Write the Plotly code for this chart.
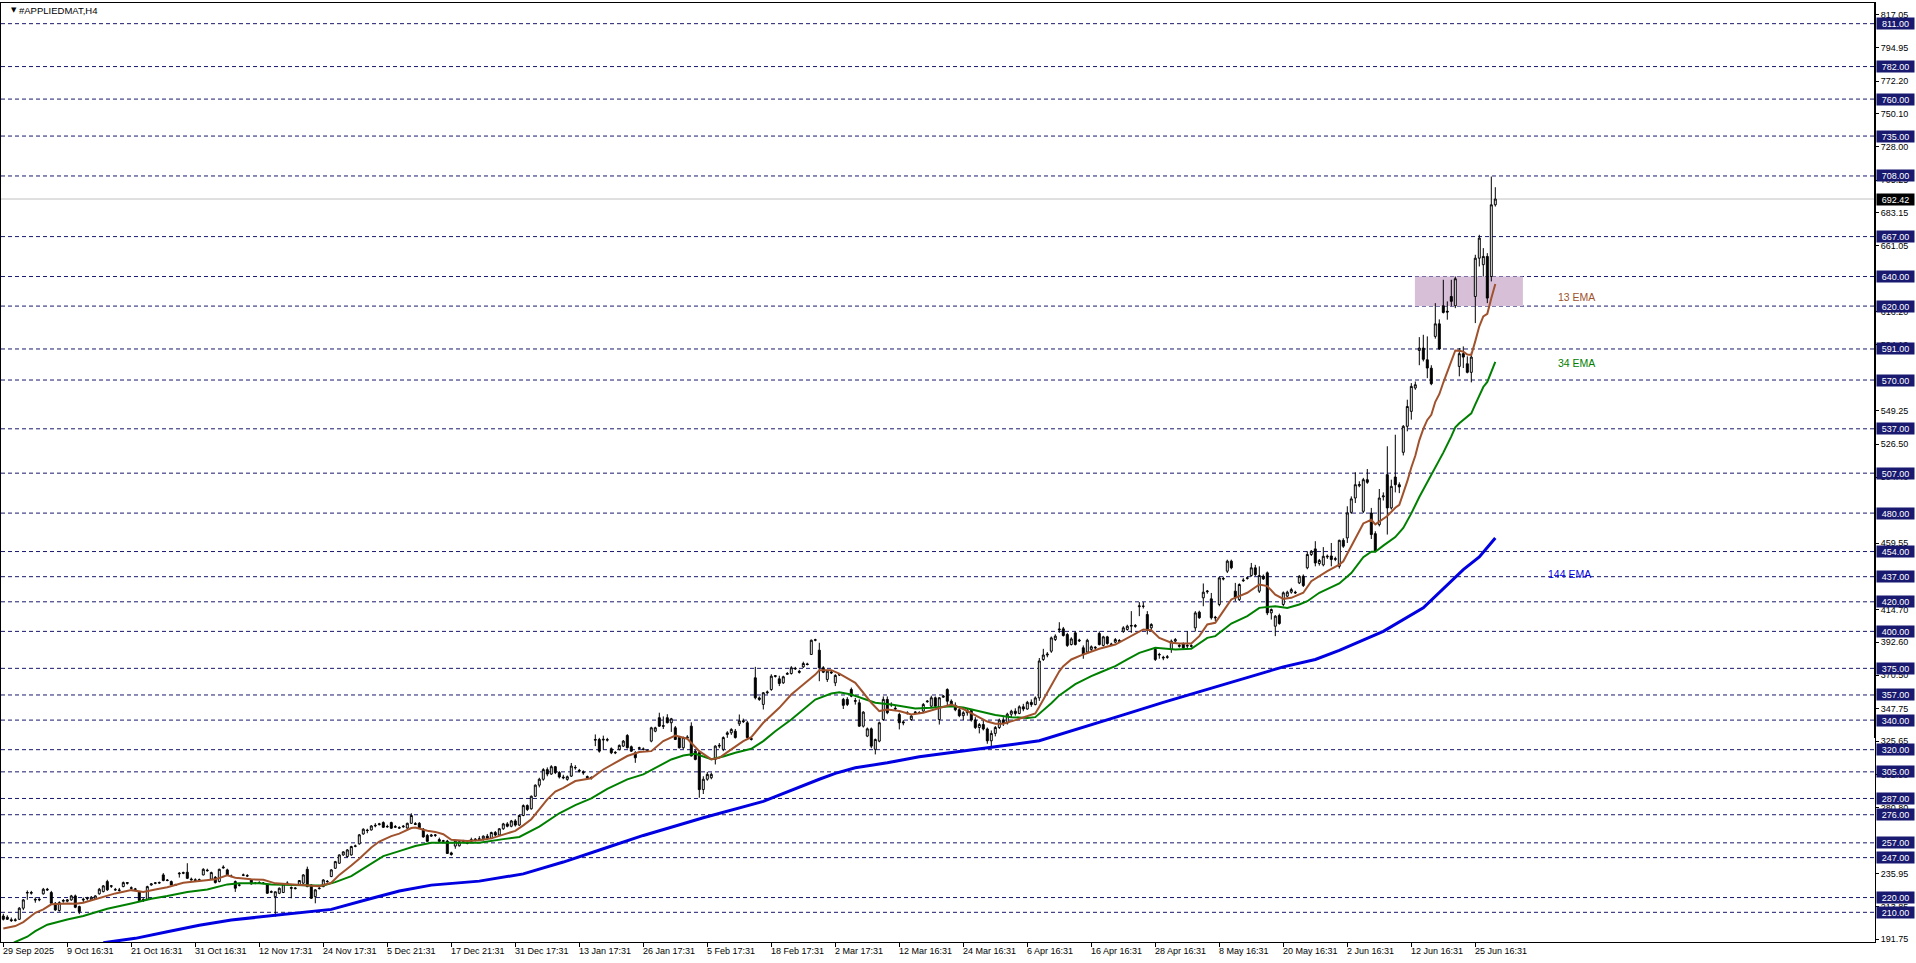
import plotly.graph_objects as go

# ---------------- data ----------------
opens = [
207.5, 206.7, 205.0, 204.4, 205.3, 212.8, 223.0, 223.4, 218.8, 218.4,
222.5, 225.6, 223.4, 216.1, 211.2, 217.5, 217.5, 218.4, 221.1, 213.9,
218.3, 219.2, 218.4, 219.0, 222.5, 224.0, 230.8, 227.6, 225.5, 224.8,
227.4, 230.1, 226.6, 225.8, 224.0, 218.0, 218.8, 228.5, 229.6, 229.8,
235.3, 231.8, 230.8, 228.5, 236.0, 236.4, 237.1, 232.5, 232.0, 231.6,
235.3, 238.5, 232.4, 233.7, 230.8, 240.0, 238.7, 234.6, 230.8, 228.3,
235.0, 234.8, 231.9, 229.5, 230.0, 229.6, 228.5, 223.5, 220.6, 222.9,
223.4, 229.4, 226.8, 226.0, 228.5, 229.7, 239.1, 228.5, 220.6, 226.0,
227.4, 231.0, 234.2, 239.8, 243.2, 248.8, 247.7, 248.8, 254.6, 256.3,
263.0, 265.6, 265.7, 268.4, 269.3, 270.7, 267.8, 270.7, 267.5, 267.3,
267.8, 267.0, 270.2, 270.0, 270.2, 266.2, 262.0, 261.5, 262.0, 259.2,
258.0, 258.2, 250.2, 254.8, 255.0, 258.0, 256.8, 258.0, 258.8, 259.3,
259.7, 261.5, 260.0, 264.0, 262.3, 266.5, 269.8, 268.2, 271.8, 269.0,
275.5, 282.2, 280.0, 288.5, 296.0, 300.0, 306.5, 303.5, 308.5, 304.5,
301.5, 299.9, 302.1, 308.0, 306.0, 305.0, 301.8, 300.8, 326.9, 326.9,
326.5, 326.8, 320.6, 318.2, 320.2, 322.4, 329.6, 322.0, 317.9, 320.8,
320.5, 319.3, 325.8, 332.5, 341.6, 336.2, 341.6, 338.2, 334.8, 328.2,
321.3, 328.6, 335.9, 319.0, 318.0, 293.0, 300.0, 301.0, 313.4, 322.4,
320.2, 330.3, 331.4, 332.5, 337.5, 339.5, 338.2, 327.5, 368.6, 355.0,
350.6, 358.5, 360.7, 369.5, 367.9, 365.2, 371.0, 371.5, 375.0, 373.0,
376.0, 378.0, 384.4, 394.0, 387.3, 375.4, 367.5, 372.5, 365.2, 370.5,
354.0, 354.0, 360.7, 353.2, 351.7, 335.9, 329.2, 334.1, 320.2, 325.8,
340.4, 354.0, 350.2, 348.0, 343.8, 338.8, 344.4, 340.4, 345.0, 345.0,
346.1, 352.4, 349.4, 355.1, 340.4, 355.5, 360.7, 352.8, 350.0, 347.0,
343.0, 345.0, 346.5, 340.0, 335.0, 337.0, 334.0, 326.0, 331.0, 335.0,
340.0, 338.0, 344.0, 346.0, 344.5, 349.0, 347.5, 352.0, 350.5, 355.0,
381.0, 384.0, 386.6, 394.5, 401.0, 401.7, 397.9, 391.1, 399.0, 393.5,
388.9, 386.0, 387.8, 389.3, 398.6, 390.5, 396.3, 391.5, 392.7, 393.8,
400.1, 401.3, 403.5, 404.0, 416.7, 417.0, 411.4, 402.4, 387.8, 384.0,
382.5, 382.4, 387.8, 393.4, 390.5, 391.8, 390.0, 390.3, 402.4, 413.0,
422.7, 426.8, 422.0, 409.6, 418.2, 435.8, 440.7, 447.5, 427.2, 421.5,
434.2, 435.8, 437.8, 443.0, 427.2, 437.3, 439.6, 412.5, 403.5, 410.7,
418.2, 423.8, 426.5, 426.5, 432.8, 437.3, 443.0, 452.0, 455.8, 445.9,
445.0, 450.3, 451.0, 448.6, 444.0, 461.6, 463.2, 480.5, 490.2, 498.5,
481.2, 502.6, 480.1, 466.1, 472.2, 491.0, 506.0, 483.5, 504.4, 499.2,
521.1, 538.7, 548.8, 564.6, 590.0, 591.6, 583.7, 578.0, 599.5, 608.0,
620.2, 616.5, 626.5, 620.2, 579.2, 587.8, 581.0, 575.2, 626.5, 652.4,
648.0, 653.6, 640.0, 688.5]

highs = [
209.0, 208.0, 206.5, 206.0, 213.5, 219.0, 224.8, 224.5, 220.2, 219.5,
226.5, 226.5, 224.5, 217.0, 217.5, 219.0, 219.0, 221.8, 222.0, 214.5,
220.0, 220.5, 221.0, 221.5, 226.5, 228.5, 232.0, 228.5, 226.5, 226.5,
230.8, 230.5, 227.5, 226.5, 224.5, 219.5, 228.0, 229.8, 230.5, 230.8,
236.5, 232.5, 231.5, 229.3, 237.2, 237.5, 243.2, 233.5, 233.0, 232.8,
239.8, 239.5, 237.5, 234.5, 239.5, 241.8, 239.5, 235.5, 231.5, 229.5,
236.2, 235.8, 232.5, 230.5, 231.0, 230.5, 229.5, 224.8, 224.0, 226.8,
229.6, 231.0, 227.5, 227.0, 231.8, 235.8, 240.9, 229.0, 225.6, 227.5,
232.4, 231.8, 239.2, 244.8, 249.2, 251.2, 252.8, 255.0, 255.8, 263.0,
266.8, 266.5, 269.0, 270.3, 270.5, 271.5, 269.2, 271.3, 269.0, 268.2,
269.0, 270.6, 277.0, 271.0, 271.0, 267.0, 263.0, 263.0, 263.0, 260.5,
259.0, 259.0, 251.0, 259.0, 258.5, 259.0, 258.0, 260.5, 260.2, 261.5,
262.0, 263.0, 264.5, 265.0, 267.0, 270.5, 271.0, 272.5, 273.0, 276.0,
283.0, 283.0, 289.0, 296.5, 301.0, 307.5, 308.0, 309.5, 309.0, 305.5,
303.0, 302.5, 311.0, 309.5, 307.0, 306.0, 302.5, 302.0, 330.3, 328.0,
329.5, 328.0, 321.5, 319.0, 323.5, 326.5, 330.5, 322.8, 319.0, 322.0,
321.5, 320.2, 335.5, 335.5, 345.0, 342.5, 344.0, 341.5, 336.0, 329.0,
328.8, 329.8, 338.5, 319.8, 319.0, 302.0, 305.0, 304.5, 323.0, 324.5,
329.0, 332.5, 334.5, 334.0, 343.8, 341.0, 339.5, 328.5, 376.0, 356.0,
359.0, 360.0, 371.0, 370.5, 370.0, 370.0, 372.5, 376.5, 376.0, 374.0,
379.5, 378.8, 394.5, 395.0, 392.3, 376.5, 374.0, 373.5, 371.0, 371.5,
355.0, 355.5, 362.0, 355.0, 354.0, 346.0, 335.0, 335.0, 327.5, 339.0,
356.0, 356.0, 352.0, 349.5, 345.0, 340.0, 346.0, 343.5, 346.0, 346.0,
351.5, 353.5, 356.5, 356.0, 355.5, 357.0, 361.5, 354.0, 352.0, 349.0,
346.0, 348.0, 347.5, 342.0, 338.0, 340.0, 335.0, 333.0, 336.0, 341.0,
342.0, 345.0, 347.0, 348.0, 350.0, 351.0, 353.0, 354.0, 356.0, 382.0,
388.2, 386.0, 396.5, 398.0, 406.2, 403.0, 399.0, 396.0, 400.0, 395.0,
390.5, 395.0, 390.5, 390.0, 400.0, 397.0, 397.0, 392.3, 395.5, 394.8,
403.5, 404.5, 413.7, 405.0, 419.8, 419.8, 413.7, 405.5, 389.0, 385.5,
383.5, 384.0, 394.5, 395.5, 391.5, 392.5, 400.1, 391.3, 413.7, 414.0,
432.4, 428.0, 426.0, 410.5, 437.0, 437.0, 448.5, 448.5, 432.8, 432.5,
436.0, 437.0, 446.3, 445.0, 444.0, 438.5, 440.5, 415.5, 411.0, 412.0,
427.0, 427.5, 429.5, 427.5, 438.0, 438.5, 454.2, 455.0, 461.0, 449.0,
457.0, 452.0, 459.8, 450.5, 462.0, 463.0, 484.6, 491.3, 507.6, 501.5,
503.8, 509.8, 483.5, 467.7, 496.3, 494.0, 525.2, 502.6, 533.0, 500.8,
539.5, 556.7, 567.9, 569.0, 599.0, 600.6, 599.5, 580.0, 622.0, 611.0,
637.8, 623.2, 637.8, 640.0, 591.6, 592.7, 586.0, 588.7, 654.7, 668.2,
659.2, 655.8, 707.6, 700.4]

lows = [
204.5, 204.8, 203.5, 203.8, 204.8, 211.5, 218.5, 222.0, 216.5, 217.5,
222.0, 224.5, 215.5, 211.0, 210.5, 216.5, 216.8, 217.8, 212.8, 208.8,
217.0, 218.0, 218.0, 218.5, 222.0, 223.5, 224.5, 226.5, 224.5, 224.0,
227.0, 228.8, 225.8, 225.0, 217.5, 217.0, 218.3, 228.0, 229.0, 229.3,
231.0, 231.0, 228.0, 227.8, 233.5, 235.8, 232.5, 231.5, 231.0, 231.2,
235.0, 237.5, 232.0, 229.5, 230.3, 239.6, 235.0, 233.8, 223.8, 227.5,
234.5, 234.0, 228.8, 229.0, 229.5, 229.0, 222.5, 223.0, 207.1, 222.3,
223.0, 229.0, 219.5, 225.5, 228.0, 229.3, 227.0, 219.0, 216.1, 225.5,
227.0, 230.0, 233.8, 239.3, 242.8, 248.2, 247.2, 248.3, 254.0, 255.8,
262.5, 263.5, 265.3, 267.5, 268.8, 267.0, 267.2, 266.4, 267.0, 266.5,
267.2, 266.5, 269.8, 269.0, 266.5, 260.5, 257.5, 261.0, 261.0, 257.5,
257.2, 249.5, 248.3, 253.0, 254.5, 257.4, 256.0, 257.5, 258.0, 258.8,
258.5, 259.0, 259.5, 261.5, 262.0, 265.8, 267.5, 267.5, 268.0, 268.5,
275.0, 278.5, 279.5, 288.0, 294.5, 299.0, 302.0, 303.0, 303.5, 300.5,
300.0, 299.0, 301.5, 306.5, 304.5, 303.0, 300.0, 299.8, 322.4, 318.0,
320.0, 325.5, 317.0, 317.0, 319.5, 321.8, 320.8, 318.5, 311.1, 320.0,
319.5, 318.4, 325.0, 331.8, 335.5, 334.0, 337.8, 332.0, 326.5, 320.8,
320.5, 327.0, 315.5, 312.8, 287.5, 290.0, 299.0, 300.0, 310.0, 321.0,
319.0, 328.0, 330.0, 327.5, 336.0, 338.0, 327.5, 326.2, 354.0, 353.0,
347.2, 357.5, 359.8, 368.8, 363.0, 364.5, 370.5, 370.8, 374.0, 371.5,
375.2, 377.0, 384.0, 393.3, 366.3, 371.8, 365.8, 371.2, 363.0, 369.8,
347.5, 349.5, 355.5, 350.5, 335.5, 335.0, 328.5, 321.0, 316.8, 325.0,
339.5, 344.0, 349.0, 346.8, 333.7, 336.5, 343.8, 339.5, 344.0, 344.2,
345.5, 351.8, 348.5, 348.5, 337.0, 355.0, 350.0, 349.0, 346.0, 342.0,
340.0, 343.0, 339.0, 334.0, 331.0, 333.0, 324.0, 321.0, 329.0, 334.0,
336.0, 337.0, 342.0, 343.0, 344.0, 346.0, 347.0, 349.0, 350.0, 353.0,
380.0, 382.5, 385.5, 393.5, 399.0, 396.5, 389.5, 390.5, 390.5, 392.8,
381.5, 385.0, 386.5, 388.0, 390.5, 389.8, 391.0, 390.5, 392.0, 392.8,
399.0, 400.5, 399.0, 402.5, 410.3, 415.5, 397.9, 401.0, 380.0, 381.5,
380.5, 381.5, 385.5, 392.5, 389.0, 388.0, 387.8, 389.0, 400.0, 408.5,
417.0, 425.5, 408.0, 406.9, 417.0, 434.5, 439.5, 442.0, 420.4, 420.5,
433.5, 435.0, 437.0, 437.5, 426.0, 434.8, 411.0, 408.0, 396.8, 404.5,
417.0, 423.0, 425.5, 425.3, 432.0, 430.0, 442.0, 451.0, 444.0, 444.5,
444.0, 449.0, 444.0, 447.5, 442.5, 456.5, 459.8, 479.5, 486.8, 497.5,
480.0, 499.8, 462.5, 453.5, 471.0, 488.5, 465.5, 482.4, 494.0, 493.5,
519.0, 535.3, 543.2, 563.4, 580.0, 582.6, 571.3, 566.5, 598.0, 590.5,
615.0, 610.8, 619.8, 618.6, 572.5, 578.1, 574.5, 568.4, 608.5, 646.8,
640.0, 622.0, 636.7, 687.3]

closes = [
205.3, 205.3, 204.4, 204.9, 212.8, 218.4, 223.4, 223.0, 218.4, 218.8,
225.6, 225.2, 216.1, 211.6, 216.6, 218.0, 218.4, 221.1, 213.4, 210.5,
218.8, 219.5, 220.2, 221.1, 225.6, 227.9, 225.2, 227.9, 225.2, 225.0,
230.1, 229.7, 226.3, 225.6, 218.0, 218.8, 227.4, 229.2, 229.9, 230.1,
231.5, 231.6, 228.5, 228.3, 236.4, 236.8, 233.0, 232.0, 231.6, 232.0,
239.1, 238.2, 236.9, 230.1, 239.1, 240.5, 235.3, 234.2, 226.3, 228.5,
235.3, 234.6, 229.2, 229.7, 230.1, 229.7, 222.9, 224.0, 223.9, 226.3,
229.2, 229.7, 226.3, 226.4, 231.5, 235.3, 227.4, 219.5, 225.2, 226.3,
231.9, 230.8, 238.7, 244.3, 248.8, 250.9, 252.2, 254.5, 254.9, 262.4,
266.2, 265.3, 268.4, 268.8, 269.8, 267.5, 268.0, 266.9, 268.0, 267.0,
268.2, 270.2, 275.5, 269.5, 267.2, 261.0, 258.0, 262.2, 262.3, 258.0,
258.4, 249.8, 249.1, 258.2, 257.8, 258.2, 256.7, 259.2, 259.4, 259.7,
261.5, 260.0, 264.0, 262.3, 266.5, 269.8, 268.2, 271.8, 269.0, 275.5,
282.2, 279.5, 288.5, 296.0, 300.0, 306.5, 303.5, 308.5, 304.5, 301.5,
301.0, 301.7, 308.9, 307.8, 305.5, 304.4, 301.0, 301.2, 326.5, 319.0,
327.0, 326.5, 317.9, 317.9, 322.9, 325.8, 321.3, 319.0, 314.5, 321.3,
320.2, 319.0, 334.8, 334.8, 335.9, 335.9, 338.2, 340.9, 326.9, 321.3,
328.2, 328.0, 315.7, 313.4, 293.0, 300.0, 303.3, 303.3, 322.4, 322.9,
328.2, 331.4, 333.7, 328.2, 339.5, 339.0, 328.2, 327.0, 355.1, 354.0,
358.5, 359.0, 369.7, 370.0, 364.8, 369.3, 371.5, 375.4, 374.7, 372.4,
378.3, 377.6, 394.0, 394.3, 375.4, 372.4, 373.1, 372.0, 370.2, 370.8,
350.0, 350.6, 356.2, 352.8, 335.9, 345.4, 334.1, 322.4, 326.9, 338.2,
354.0, 345.0, 350.6, 347.6, 338.2, 338.2, 344.9, 342.7, 345.4, 345.0,
350.6, 352.8, 355.1, 349.4, 355.1, 356.2, 352.8, 350.0, 347.0, 343.0,
345.0, 346.5, 340.0, 335.0, 337.0, 334.0, 326.0, 331.0, 335.0, 340.0,
338.0, 344.0, 346.0, 344.5, 349.0, 347.5, 352.0, 350.5, 355.0, 380.0,
384.0, 384.6, 395.6, 396.8, 401.5, 397.2, 390.5, 394.9, 391.1, 394.0,
384.4, 394.0, 389.6, 388.9, 391.1, 396.3, 391.8, 391.1, 394.5, 393.4,
402.4, 403.5, 404.0, 403.5, 417.2, 417.0, 400.8, 404.7, 381.0, 384.4,
382.1, 382.8, 393.4, 394.5, 390.0, 388.9, 390.5, 390.0, 412.5, 409.2,
426.5, 427.2, 409.2, 409.2, 436.2, 435.5, 447.5, 443.0, 422.7, 431.7,
434.6, 436.2, 443.0, 438.4, 437.8, 435.5, 412.5, 414.8, 410.3, 405.3,
426.1, 426.5, 428.3, 426.1, 437.3, 431.0, 452.0, 454.2, 446.3, 448.0,
450.8, 450.8, 448.6, 449.2, 461.6, 457.6, 480.1, 489.6, 499.2, 499.3,
502.6, 500.8, 465.5, 454.2, 490.2, 491.6, 483.5, 498.1, 499.2, 497.7,
538.7, 552.1, 565.7, 566.8, 591.6, 584.0, 578.1, 567.5, 608.0, 591.0,
615.7, 616.0, 623.2, 638.5, 587.8, 585.5, 575.2, 585.5, 652.4, 666.0,
653.6, 625.4, 688.5, 692.42]

ema13_bar = [0, 3, 5, 8, 10, 12, 16, 18, 20, 24, 28, 32, 35, 38, 41, 45, 49, 53, 56, 58,
             62, 65, 68, 72, 76, 79, 82, 84, 87, 89, 92, 94, 97, 99, 102, 103, 106, 108, 110, 112,
             116, 119, 122, 125, 128, 130, 132, 134, 136, 138, 140, 143, 147, 150, 153, 156, 159, 162, 165, 168,
             171, 174, 177, 179, 182, 185, 187, 188, 190, 194, 197, 200, 203, 204, 207, 209, 213, 215, 217, 219,
             221, 224, 227, 230, 234, 237, 240, 243, 246, 248, 250, 253, 256, 258, 259, 260, 261, 262, 263, 264,
             265, 266, 267, 270, 274, 278, 282, 285, 287, 289, 292, 294, 297, 299, 301, 303, 305, 307, 311, 314,
             316, 318, 320, 322, 325, 327, 331, 334, 335, 338, 340, 342, 343, 346, 348, 349, 350, 351, 352, 353,
             354, 355, 356, 357, 358, 359, 360, 361, 362, 363, 364, 365, 366, 367, 368, 369, 370, 371, 372, 373]
ema13_val = [199.1, 200.7, 203.4, 209.7, 212.0, 215.4, 216.0, 215.8, 216.5, 219.9, 222.8, 225.0, 223.7, 225.5, 227.0, 230.0, 231.1, 232.3, 235.0, 233.4,
             232.3, 232.0, 229.6, 228.9, 228.4, 227.7, 230.0, 235.3, 241.7, 246.3, 253.9, 257.9, 261.5, 263.2, 267.0, 267.3, 265.2, 264.4, 262.8, 259.0,
             258.3, 258.8, 260.0, 262.4, 265.1, 268.8, 273.0, 279.7, 286.4, 291.7, 294.2, 298.8, 300.6, 306.6, 311.1, 315.7, 318.4, 319.0, 325.8, 329.6,
             327.4, 319.0, 313.4, 314.5, 320.2, 325.8, 328.5, 331.9, 338.2, 348.3, 357.3, 364.1, 370.8, 373.8, 373.8, 371.5, 365.2, 358.5, 351.7, 346.1,
             347.2, 346.1, 343.8, 345.0, 348.3, 350.6, 347.5, 343.0, 339.0, 337.5, 337.5, 340.0, 343.0, 344.5, 349.0, 354.0, 358.0, 363.5, 368.0, 373.0,
             376.5, 378.5, 381.0, 384.4, 388.2, 391.1, 396.8, 401.3, 400.8, 395.6, 392.3, 391.8, 391.8, 396.8, 404.7, 405.8, 413.7, 421.6, 426.1, 431.7,
             430.6, 424.9, 422.0, 422.7, 426.1, 433.9, 440.7, 445.2, 447.4, 463.0, 473.0, 475.5, 472.4, 478.0, 483.6, 485.6, 493.2, 501.6, 510.8, 518.8,
             529.2, 537.0, 543.0, 546.5, 555.3, 560.4, 568.3, 575.1, 582.0, 590.0, 589.8, 589.2, 587.2, 587.0, 596.3, 606.3, 613.0, 614.8, 625.3, 634.9]

ema34_bar = [2, 3, 6, 8, 11, 16, 20, 26, 32, 37, 41, 46, 51, 56, 59, 64, 67, 72, 78, 80,
             83, 87, 91, 95, 99, 103, 107, 112, 119, 125, 129, 134, 139, 143, 147, 151, 156, 160, 163, 167,
             170, 173, 177, 180, 183, 187, 190, 193, 197, 200, 203, 207, 209, 212, 216, 218, 222, 225, 228, 232,
             237, 240, 244, 248, 252, 256, 258, 259, 260, 262, 264, 266, 268, 270, 272, 274, 276, 278, 281, 284,
             288, 293, 297, 301, 303, 307, 311, 314, 318, 321, 324, 326, 329, 334, 337, 340, 342, 343, 345, 348,
             350, 352, 354, 356, 358, 360, 362, 363, 364, 367, 368, 369, 370, 371, 372, 373]
ema34_val = [188.5, 190.0, 193.5, 197.3, 201.6, 205.2, 207.5, 212.4, 216.0, 219.2, 221.0, 223.7, 225.5, 228.9, 229.6, 229.6, 228.9, 228.4, 228.2, 228.2,
             230.4, 234.5, 241.3, 248.0, 251.4, 254.8, 257.0, 257.0, 257.0, 259.5, 261.0, 268.0, 277.0, 282.5, 287.0, 293.5, 299.9, 303.3, 307.8, 313.4,
             316.1, 317.2, 313.6, 315.4, 317.9, 320.6, 325.8, 332.5, 340.4, 347.2, 353.9, 358.0, 358.9, 357.3, 353.9, 351.7, 350.6, 349.0, 347.9, 348.3,
             349.4, 348.5, 346.0, 343.5, 342.0, 341.5, 342.0, 344.2, 346.5, 351.4, 356.7, 360.8, 364.3, 367.0, 369.8, 372.0, 374.5, 376.5, 381.0, 385.5,
             388.9, 387.8, 388.2, 395.6, 396.8, 405.3, 410.3, 415.9, 417.0, 415.9, 418.2, 420.4, 426.1, 432.4, 439.5, 450.2, 453.9, 453.9, 458.0, 463.8,
             470.0, 479.8, 490.9, 500.9, 510.6, 520.9, 531.9, 538.0, 540.8, 547.5, 553.5, 559.9, 565.3, 568.7, 575.5, 582.2]

ema144_bar = [25, 33, 41, 49, 57, 66, 74, 82, 91, 99, 107, 119, 130, 140, 150, 160, 175, 190, 204, 208,
              213, 221, 229, 237, 248, 259, 270, 280, 290, 300, 310, 320, 328, 334, 345, 355, 365, 369, 373]
ema144_val = [189.5, 192.4, 196.9, 201.2, 204.8, 207.5, 209.7, 212.0, 218.7, 224.4, 228.4, 231.1, 236.0, 244.0, 253.0, 262.0, 274.0, 285.0, 300.0, 304.0,
              307.8, 311.1, 315.2, 317.9, 322.0, 326.0, 335.0, 343.5, 352.0, 360.0, 368.5, 376.0, 381.0, 387.1, 400.0, 416.0, 441.8, 450.3, 463.2]

level_prices = [811, 782, 760, 735, 708, 667, 640, 620, 591, 570, 537, 507, 480, 454,
                437, 420, 400, 375, 357, 340, 320, 305, 287, 276, 257, 247, 220, 210]
last_price = 692.42
zone_low, zone_high = 620, 640
zone_first_bar, zone_last_bar = 352.9, 379.9

# scale labels that stay (at least partly) visible beside the level boxes
ytick_vals = [817.05, 794.95, 772.20, 750.10, 728.00, 705.25, 683.15, 661.05, 616.20,
              594.10, 549.25, 526.50, 504.40, 459.55, 414.70, 392.60,
              370.50, 347.75, 325.65, 302.90, 280.80, 235.95, 213.85, 191.75]

xtick_bars = [0, 16, 32, 48, 64, 80, 96, 112, 128, 144, 160, 176, 192, 208, 224, 240,
              256, 272, 288, 304, 320, 336, 352, 368]
xtick_text = ["29 Sep 2025", "9 Oct 16:31", "21 Oct 16:31", "31 Oct 16:31", "12 Nov 17:31",
              "24 Nov 17:31", "5 Dec 21:31", "17 Dec 21:31", "31 Dec 17:31", "13 Jan 17:31",
              "26 Jan 17:31", "5 Feb 17:31", "18 Feb 17:31", "2 Mar 17:31", "12 Mar 16:31",
              "24 Mar 16:31", "6 Apr 16:31", "16 Apr 16:31", "28 Apr 16:31", "8 May 16:31",
              "20 May 16:31", "2 Jun 16:31", "12 Jun 16:31", "25 Jun 16:31"]

ema_labels = [("13 EMA", 388.2, 626.2, "#A0522D"),
              ("34 EMA", 388.2, 581.5, "#008000"),
              ("144 EMA", 385.7, 438.8, "#0000E0")]

symbol_title = "#APPLIEDMAT,H4"

n = len(closes)
assert len(opens) == n and len(highs) == n and len(lows) == n, (len(opens), len(highs), len(lows), n)
bars = list(range(n))

# ---------------- figure ----------------
W, H = 1916, 963
ML, MR, MT, MB = 1, 41, 3, 21
FONT = "Liberation Sans, Arial, sans-serif"
NAVY = "#191970"

fig = go.Figure()
fig.add_trace(go.Candlestick(
    x=bars, open=opens, high=highs, low=lows, close=closes,
    increasing=dict(line=dict(color="black", width=1), fillcolor="white"),
    decreasing=dict(line=dict(color="black", width=1), fillcolor="black"),
    whiskerwidth=0, hoverinfo="skip", showlegend=False))

fig.add_trace(go.Scatter(x=ema144_bar, y=ema144_val, mode="lines",
                         line=dict(color="#0000E0", width=3), hoverinfo="skip", showlegend=False))
fig.add_trace(go.Scatter(x=ema34_bar, y=ema34_val, mode="lines",
                         line=dict(color="#008000", width=2), hoverinfo="skip", showlegend=False))
fig.add_trace(go.Scatter(x=ema13_bar, y=ema13_val, mode="lines",
                         line=dict(color="#A0522D", width=2), hoverinfo="skip", showlegend=False))

shapes = []
shapes.append(dict(type="rect", xref="x", yref="y", x0=zone_first_bar, x1=zone_last_bar,
                   y0=zone_low, y1=zone_high, fillcolor="#D8BFD8", line=dict(width=0), layer="below"))
shapes.append(dict(type="line", xref="paper", yref="y", x0=0, x1=1, y0=last_price, y1=last_price,
                   line=dict(color="#C0C0C0", width=1), layer="below"))
for lv in level_prices:
    shapes.append(dict(type="line", xref="paper", yref="y", x0=0, x1=1, y0=lv, y1=lv,
                       line=dict(color=NAVY, width=1, dash="4px,3px"), layer="below"))
# thicker part of the right border
shapes.append(dict(type="line", xref="paper", yref="paper", x0=1, x1=1,
                   y0=(942 - 738) / (H - MT - MB), y1=1, line=dict(color="black", width=2)))

annotations = []
for lv in level_prices:
    annotations.append(dict(xref="paper", x=1, xanchor="left", xshift=1, yref="y", y=lv,
                            yanchor="middle", text=f"{lv:.2f}", showarrow=False,
                            bgcolor=NAVY, font=dict(color="white", size=9, family=FONT),
                            width=37, height=11, borderpad=0))
annotations.append(dict(xref="paper", x=1, xanchor="left", xshift=1, yref="y", y=last_price,
                        yanchor="middle", text=f"{last_price:.2f}", showarrow=False,
                        bgcolor="black", font=dict(color="white", size=9, family=FONT),
                        width=37, height=11, borderpad=0))
for b, t in zip(xtick_bars, xtick_text):
    annotations.append(dict(xref="x", x=b, xanchor="left", xshift=-2, yref="paper", y=0,
                            yanchor="top", yshift=-2, text=t, showarrow=False,
                            font=dict(color="black", size=9, family=FONT)))
for t, bx, py, col in ema_labels:
    annotations.append(dict(xref="x", x=bx, xanchor="left", yref="y", y=py, yanchor="middle",
                            text=t, showarrow=False, font=dict(color=col, size=10.5, family=FONT)))
annotations.append(dict(xref="paper", x=0, xanchor="left", xshift=8, yref="paper", y=1,
                        yanchor="top", yshift=-1, text="▼", showarrow=False,
                        font=dict(color="black", size=7, family="DejaVu Sans")))
annotations.append(dict(xref="paper", x=0, xanchor="left", xshift=16, yref="paper", y=1,
                        yanchor="top", yshift=0, text=symbol_title, showarrow=False,
                        font=dict(color="black", size=9.5, family=FONT)))

fig.update_layout(
    width=W, height=H, margin=dict(l=ML, r=MR, t=MT, b=MB, pad=0),
    paper_bgcolor="white", plot_bgcolor="white",
    font=dict(family=FONT, size=9, color="black"),
    showlegend=False, hovermode=False,
    shapes=shapes, annotations=annotations,
    xaxis=dict(range=[-0.575, -0.575 + (W - ML - MR) / 4.0], showgrid=False, zeroline=False,
               showline=True, linecolor="black", linewidth=1, mirror=True,
               ticks="outside", ticklen=4, tickcolor="black", tickwidth=1,
               tickmode="array", tickvals=xtick_bars, showticklabels=False,
               rangeslider=dict(visible=False), fixedrange=True),
    yaxis=dict(range=[189.93, 824.98], side="right", showgrid=False, zeroline=False,
               showline=True, linecolor="black", linewidth=1, mirror=True,
               ticks="outside", ticklen=3, tickcolor="black", tickwidth=1,
               tickmode="array", tickvals=ytick_vals, ticktext=[f"{v:.2f}" for v in ytick_vals],
               tickfont=dict(size=9, family=FONT, color="black"), fixedrange=True),
)

fig.write_html("out.html")
